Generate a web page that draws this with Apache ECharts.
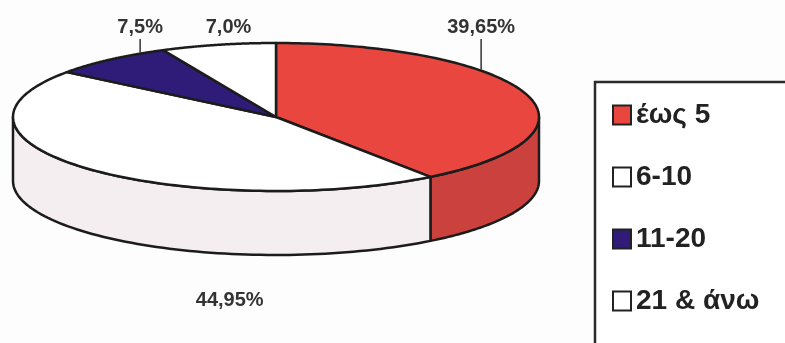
<!DOCTYPE html>
<html><head><meta charset="utf-8">
<script src="https://cdn.jsdelivr.net/npm/echarts@6/dist/echarts.min.js"></script>
<style>html,body{margin:0;padding:0;background:#fdfdfd}#c{width:785px;height:343px}</style>
</head><body><div id="c"></div>
<script>
// ---- data ----
const categories = ['έως 5', '6-10', '11-20', '21 & άνω'];
const values = [39.65, 44.95, 7.5, 7.0];
const valueLabels = ['39,65%', '44,95%', '7,5%', '7,0%'];

// ---- styles ----
const topColors = ['#e8463f', '#ffffff', '#2e1c78', '#ffffff'];
const sideColors = ['#cb413e', '#f4eef1', '#22145e', '#eeeeee'];
const PIE = { cx: 276, cy: 117, rx: 263, ry: 74, depth: 64 };
const STROKE = '#1c1c1c';

const total = values.reduce((a, b) => a + b, 0);
let acc = 0;
const spans = values.map(v => { const s = acc / total; acc += v; return [s, acc / total]; });

function rim(a, dy) {
  return [PIE.cx + PIE.rx * Math.sin(a), PIE.cy - PIE.ry * Math.cos(a) + (dy || 0)];
}

function makeRender(idx) {
  return function (params, api) {
    const a0 = api.value(0) * 2 * Math.PI, a1 = api.value(1) * 2 * Math.PI;
    const children = [];
    // visible outer wall (front half)
    const s0 = Math.max(a0, Math.PI / 2), s1 = Math.min(a1, 1.5 * Math.PI);
    if (s1 > s0) {
      const pts = [], n = 80;
      for (let i = 0; i <= n; i++) pts.push(rim(s0 + (s1 - s0) * i / n));
      for (let i = n; i >= 0; i--) pts.push(rim(s0 + (s1 - s0) * i / n, PIE.depth));
      children.push({ type: 'polygon', shape: { points: pts },
        style: { fill: sideColors[idx], stroke: STROKE, lineWidth: 2.5, lineJoin: 'round' } });
    }
    // top face
    const top = [[PIE.cx, PIE.cy]], n2 = 120;
    for (let i = 0; i <= n2; i++) top.push(rim(a0 + (a1 - a0) * i / n2));
    children.push({ type: 'polygon', shape: { points: top },
      style: { fill: topColors[idx], stroke: STROKE, lineWidth: 2.5, lineJoin: 'round' } });
    // label
    const mid = (a0 + a1) / 2;
    const back = Math.cos(mid) >= 0;
    const lx = PIE.cx + PIE.rx * 0.82 * Math.sin(mid) * (back ? 1 : 0.3);
    const ly = back ? PIE.cy - PIE.ry - 16 : PIE.cy + PIE.ry + PIE.depth + 45;
    if (back) {
      const t = (lx - PIE.cx) / PIE.rx;
      const rimY = PIE.cy - PIE.ry * Math.sqrt(Math.max(0, 1 - t * t));
      if (rimY - (ly + 11) > 8) {
        children.push({ type: 'line', shape: { x1: lx, y1: ly + 12, x2: lx, y2: rimY - 1 },
          style: { stroke: '#333', lineWidth: 1.5 } });
      }
    }
    children.push({ type: 'text', x: lx, y: ly,
      style: { text: valueLabels[idx], fill: '#333', font: 'bold 20px "Liberation Sans", Arial, sans-serif',
        align: 'center', verticalAlign: 'middle' } });
    return { type: 'group', children };
  };
}

const chart = echarts.init(document.getElementById('c'), null, { renderer: 'canvas' });
chart.setOption({
  backgroundColor: '#fdfdfd',
  animation: false,
  legend: {
    orient: 'vertical', left: 595, top: 82, height: 600, width: 400,
    data: categories, icon: 'rect', selectedMode: false,
    itemWidth: 18, itemHeight: 19, itemGap: 34,
    padding: [19, 120, 60, 17],
    borderColor: '#2a2a2a', borderWidth: 2.5, backgroundColor: '#ffffff',
    itemStyle: { borderColor: '#222', borderWidth: 2 },
    textStyle: { fontFamily: '"Liberation Sans", Arial, sans-serif', fontWeight: 'bold', fontSize: 28, color: '#222' }
  },
  series: categories.map((name, i) => ({
    type: 'custom', name, coordinateSystem: 'none', silent: true,
    itemStyle: { color: topColors[i] },
    data: [spans[i]],
    renderItem: makeRender(i)
  }))
});
</script></body></html>
